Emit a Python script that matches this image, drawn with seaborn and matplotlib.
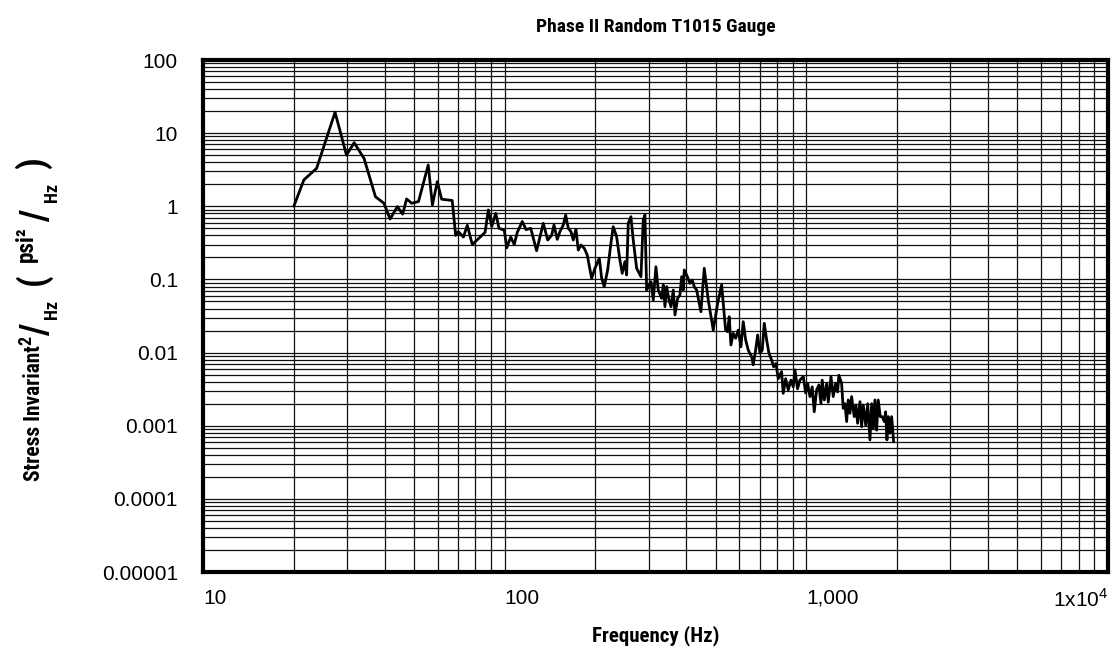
import matplotlib
matplotlib.use("Agg")
import matplotlib.pyplot as plt
import matplotlib.font_manager as fm
import seaborn as sns
from matplotlib.ticker import LogLocator, FixedLocator, NullFormatter

# ---- data ----
freq_hz = [20, 21.6, 23.8, 27.4, 29.9, 31.7, 34.2, 37.3, 39.8, 41.7, 44.1, 45.9, 47.3, 49.2, 51.8,
           55.8, 57.6, 59.8, 61.8, 67, 68.8, 70.2, 73, 75.2, 78.1, 86.1, 88.3, 90.6, 93.4, 95.8,
           99.7, 101.6, 104.7, 107.6, 110.1, 114.4, 117.7, 122, 127.6, 134.3, 138.9, 143.1,
           145.7, 149.4, 152.5, 156.4, 159.3, 162.5, 165.9, 168.8, 172.3, 175.4, 179, 183.6, 187.8,
           194.2, 199.2, 205.9, 209.7, 213.8, 219.5, 225, 229, 235, 241, 245.3, 250.4, 253.7, 256.8,
           262.1, 266.8, 273.8, 283, 288, 291.7, 295.6, 300.8, 305.5, 310.9, 317.3, 322.9, 331.4,
           335.5, 339.9, 344.4, 350.5, 355.9, 362.2, 366.9, 374.5, 381.1, 386.1, 390.8, 393.9, 401,
           411.3, 418.6, 425, 432.9, 447.3, 458.8, 473, 491.4, 508.2, 523.9, 540, 548.3, 555, 562.3,
           572.4, 583, 594.6, 607, 617.8, 629.3, 641.9, 658.8, 666.8, 679.1, 689.6, 701.8, 714.2,
           725.3, 738.6, 751.6, 767.4, 779.1, 792.9, 807, 827.9, 838.3, 853.8, 871, 889.2, 904.9,
           916.8, 935, 952, 977, 995, 1010, 1028, 1046, 1062, 1082, 1101, 1118, 1129, 1147, 1168,
           1182, 1207, 1228, 1251, 1270, 1282, 1309, 1325, 1343, 1360, 1377, 1395, 1413, 1441, 1460,
           1479, 1506, 1525, 1544, 1573, 1597, 1625, 1646, 1667, 1688, 1710, 1731, 1758, 1785, 1813,
           1832, 1850, 1869, 1893, 1918, 1947]
psd = [1.0, 2.3, 3.3, 19.3, 5.0, 7.4, 4.5, 1.35, 1.1, 0.67, 0.99, 0.78, 1.26, 1.1, 1.16,
       3.67, 1.04, 2.17, 1.25, 1.2, 0.40, 0.45, 0.38, 0.55, 0.30, 0.44, 0.89, 0.53, 0.80, 0.50,
       0.47, 0.27, 0.38, 0.30, 0.44, 0.62, 0.48, 0.50, 0.247, 0.585, 0.346, 0.40,
       0.555, 0.353, 0.45, 0.555, 0.76, 0.50, 0.45, 0.346, 0.484, 0.252, 0.296, 0.266, 0.216,
       0.1035, 0.142, 0.195, 0.1035, 0.0796, 0.1346, 0.312, 0.526, 0.384, 0.184, 0.121, 0.175, 0.115, 0.585,
       0.72, 0.346, 0.142, 0.109, 0.65, 0.76, 0.0716, 0.084, 0.093, 0.0524, 0.149, 0.0716, 0.0552,
       0.084, 0.0424, 0.0796, 0.0524, 0.0424, 0.0716, 0.0327, 0.0552, 0.0612, 0.109, 0.0716, 0.1346, 0.115,
       0.0886, 0.098, 0.0796, 0.0716, 0.0362, 0.142, 0.0524, 0.0203, 0.0471, 0.084, 0.0203, 0.0193, 0.0309, 0.0127,
       0.0183, 0.0157, 0.0203, 0.012, 0.0264, 0.0149, 0.0108, 0.0088, 0.0068, 0.0108, 0.0174, 0.0098, 0.0108,
       0.0251, 0.0149, 0.0098, 0.0079, 0.0064, 0.0071, 0.0044, 0.0055, 0.00277, 0.0044, 0.00308, 0.0042, 0.0034,
       0.0058, 0.0032, 0.0042, 0.0047, 0.0028, 0.0038, 0.0025, 0.0034, 0.00155, 0.0031, 0.0036, 0.0020, 0.0042, 0.00225, 0.0038,
       0.0021, 0.0047, 0.0025, 0.0038, 0.0029, 0.0049, 0.0038, 0.00173, 0.0020, 0.00114, 0.00225, 0.00148, 0.0025, 0.00133, 0.00192,
       0.00108, 0.00213, 0.00097, 0.00192, 0.00102, 0.0020, 0.00064, 0.0020, 0.00092, 0.00225, 0.00087, 0.00225, 0.00133, 0.00133, 0.00114,
       0.00155, 0.00064, 0.00133, 0.00079, 0.00133, 0.0006]

x_ticks = [10, 100, 1000, 10000]
x_tick_labels = ["10", "100", "1,000", "1x10$^4$"]
y_ticks = [1e-5, 1e-4, 1e-3, 1e-2, 1e-1, 1, 10, 100]
y_tick_labels = ["0.00001", "0.0001", "0.001", "0.01", "0.1", "1", "10", "100"]
title = "Phase II Random T1015 Gauge"
x_label = "Frequency (Hz)"
y_label_parts = ["Stress Invariant", "2", "/", "Hz", "(", "psi²", "/", "Hz", ")"]

# ---- fonts ----
sns.set_theme(style="white")
plt.rcParams["font.family"] = ["Liberation Sans", "DejaVu Sans"]
plt.rcParams["mathtext.fontset"] = "custom"
plt.rcParams["mathtext.rm"] = "Liberation Sans"
for k in ["text.color", "axes.labelcolor", "xtick.color", "ytick.color"]:
    plt.rcParams[k] = "black"

names = {f.name for f in fm.fontManager.ttflist}
cond_family = None
for cand in ["Liberation Sans Narrow", "Roboto Condensed", "Open Sans Condensed",
             "Noto Sans Condensed", "Arial Narrow", "Nimbus Sans Narrow"]:
    if cand in names:
        cond_family = cand
        break
if cond_family is not None:
    bold_font = dict(family=[cond_family, "DejaVu Sans"], weight="bold")
else:
    bold_font = dict(family=["Liberation Sans", "DejaVu Sans"], weight="bold")

# ---- figure ----
W, H = 1115, 655
fig = plt.figure(figsize=(W / 100, H / 100), dpi=100)
ax = fig.add_axes([203 / W, 1 - 572 / H, (1108 - 203) / W, (572 - 60) / H])

sns.lineplot(x=freq_hz, y=psd, ax=ax, color="black", linewidth=2.0,
             sort=False, estimator=None)

ax.set_xscale("log")
ax.set_yscale("log")
ax.set_xlim(10, 10000)
ax.set_ylim(1e-5, 100)

ax.xaxis.set_major_locator(FixedLocator(x_ticks))
ax.yaxis.set_major_locator(FixedLocator(y_ticks))
ax.xaxis.set_minor_locator(LogLocator(base=10, subs=range(2, 10), numticks=20))
ax.yaxis.set_minor_locator(LogLocator(base=10, subs=range(2, 10), numticks=20))
ax.xaxis.set_minor_formatter(NullFormatter())
ax.yaxis.set_minor_formatter(NullFormatter())
ax.set_xticklabels(x_tick_labels)
ax.set_yticklabels(y_tick_labels)
ax.tick_params(which="both", length=0, labelsize=15, colors="black")
ax.tick_params(axis="x", pad=12)
ax.tick_params(axis="y", pad=18)
tl = ax.get_xticklabels()
for t in tl[:3]:
    t.set_ha("left")
tl[3].set_ha("right")

ax.grid(True, which="both", color="#111111", linewidth=0.9)
ax.set_axisbelow(True)
for s in ax.spines.values():
    s.set_visible(True)
    s.set_color("black")
    s.set_linewidth(3)

fig.text(656 / W, 1 - 27 / H, title, ha="center", va="center", fontsize=14, **bold_font)
fig.text(656 / W, 1 - 636 / H, x_label, ha="center", va="center", fontsize=15, **bold_font)

# ---- composite rotated y label, fitted to the reference extents ----
renderer = fig.canvas.get_renderer()


def ylab(txt, xc, ybottom, size, target_len=None):
    t = fig.text(xc / W, 1 - ybottom / H, txt, rotation=90, ha="center", va="bottom",
                 fontsize=size, **bold_font)
    if target_len is not None:
        ext = t.get_window_extent(renderer)
        t.set_fontsize(size * target_len / ext.height)
    return t


ylab(y_label_parts[0], 34, 481, 17, 136)
ylab(y_label_parts[1], 26, 345, 13)
ylab(y_label_parts[2], 38, 336, 27)
ylab(y_label_parts[3], 52, 319, 13)
ylab(y_label_parts[4], 33, 285, 26)
ylab(y_label_parts[5], 26, 262, 12, 36)
ylab(y_label_parts[6], 38, 222, 27)
ylab(y_label_parts[7], 52, 202, 13)
ylab(y_label_parts[8], 33, 168, 26)

fig.savefig("out.png", dpi=100)
